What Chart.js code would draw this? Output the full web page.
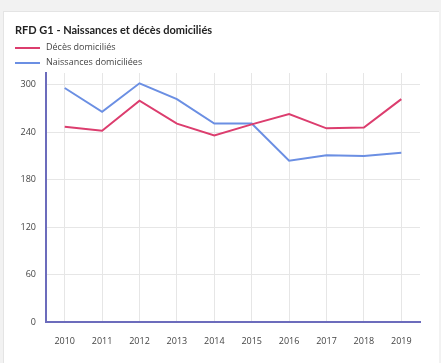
<!DOCTYPE html>
<html>
<head>
<meta charset="utf-8">
<script src="https://cdn.jsdelivr.net/npm/chart.js@4"></script>
<style>
  html, body { margin: 0; padding: 0; background: #f2f2f2; }
  #card { position: absolute; left: 3px; top: 11px; width: 436px; height: 352px; background: #fff; border-left: 1px solid #e4e4e4; border-top: 1px solid #e4e4e4; box-sizing: border-box; }
  #wrap { position: absolute; left: 0; top: 0; width: 441px; height: 363px; }
  #title { position: absolute; left: 15px; top: 23px; font: bold 11px Lato, sans-serif; color: #222; white-space: nowrap; }
  #legend { position: absolute; left: 15px; top: 41px; font: 9px "Open Sans", sans-serif; color: #444; }
  #legend div { height: 15px; line-height: 12px; white-space: nowrap; }
  #legend span { display: inline-block; width: 25px; height: 2px; vertical-align: middle; margin-right: 6px; }
</style>
</head>
<body>
<div id="card"></div>
<div id="wrap"><canvas id="chart"></canvas></div>
<div id="title">RFD G1 - Naissances et décès domiciliés</div>
<div id="legend"></div>
<script>
const years = ['2010', '2011', '2012', '2013', '2014', '2015', '2016', '2017', '2018', '2019'];
const deces = [247, 242, 280, 251, 236, 250, 263, 245, 246, 282];
const naissances = [296, 266, 302, 282, 251, 251, 204, 211, 210, 214];
const seriesNames = ['Décès domiciliés', 'Naissances domiciliées'];
const seriesColors = ['#dc3d6e', '#6b8fe3'];

document.addEventListener('DOMContentLoaded', () => {
    const ctx = document.getElementById('chart').getContext('2d');
    const chart = new Chart(ctx, {
        type: 'line',
        data: {
            labels: years,
            datasets: [deces, naissances].map((d, i) => ({
                label: seriesNames[i],
                data: d,
                borderColor: seriesColors[i],
                backgroundColor: seriesColors[i],
                borderWidth: 2,
                pointRadius: 0,
                tension: 0
            }))
        },
        options: {
            responsive: true,
            maintainAspectRatio: false,
            animation: false,
            layout: { padding: { top: 73, right: 21, left: 0, bottom: 0 } },
            plugins: { legend: { display: false }, tooltip: { enabled: false } },
            scales: {
                x: {
                    offset: true,
                    afterFit: s => { s.height = 41; },
                    grid: { offset: false, color: '#e6e6e6', drawTicks: false },
                    border: { color: '#6c6cbc', width: 2 },
                    ticks: { padding: 14, color: '#444', font: { family: 'Open Sans', size: 9 } }
                },
                y: {
                    min: 0,
                    max: 315,
                    afterFit: s => { s.width = 46; },
                    afterBuildTicks: s => { s.ticks = s.ticks.filter(t => t.value % 60 === 0); },
                    grid: { color: '#e6e6e6', drawTicks: false },
                    border: { color: '#6c6cbc', width: 2 },
                    ticks: { stepSize: 60, padding: 10, color: '#444', font: { family: 'Open Sans', size: 9 } }
                }
            }
        }
    });
    const legend = document.getElementById('legend');
    chart.data.datasets.forEach(ds => {
        const row = document.createElement('div');
        row.innerHTML = `<span style="background:${ds.borderColor}"></span>${ds.label}`;
        legend.appendChild(row);
    });
});
</script>
</body>
</html>
